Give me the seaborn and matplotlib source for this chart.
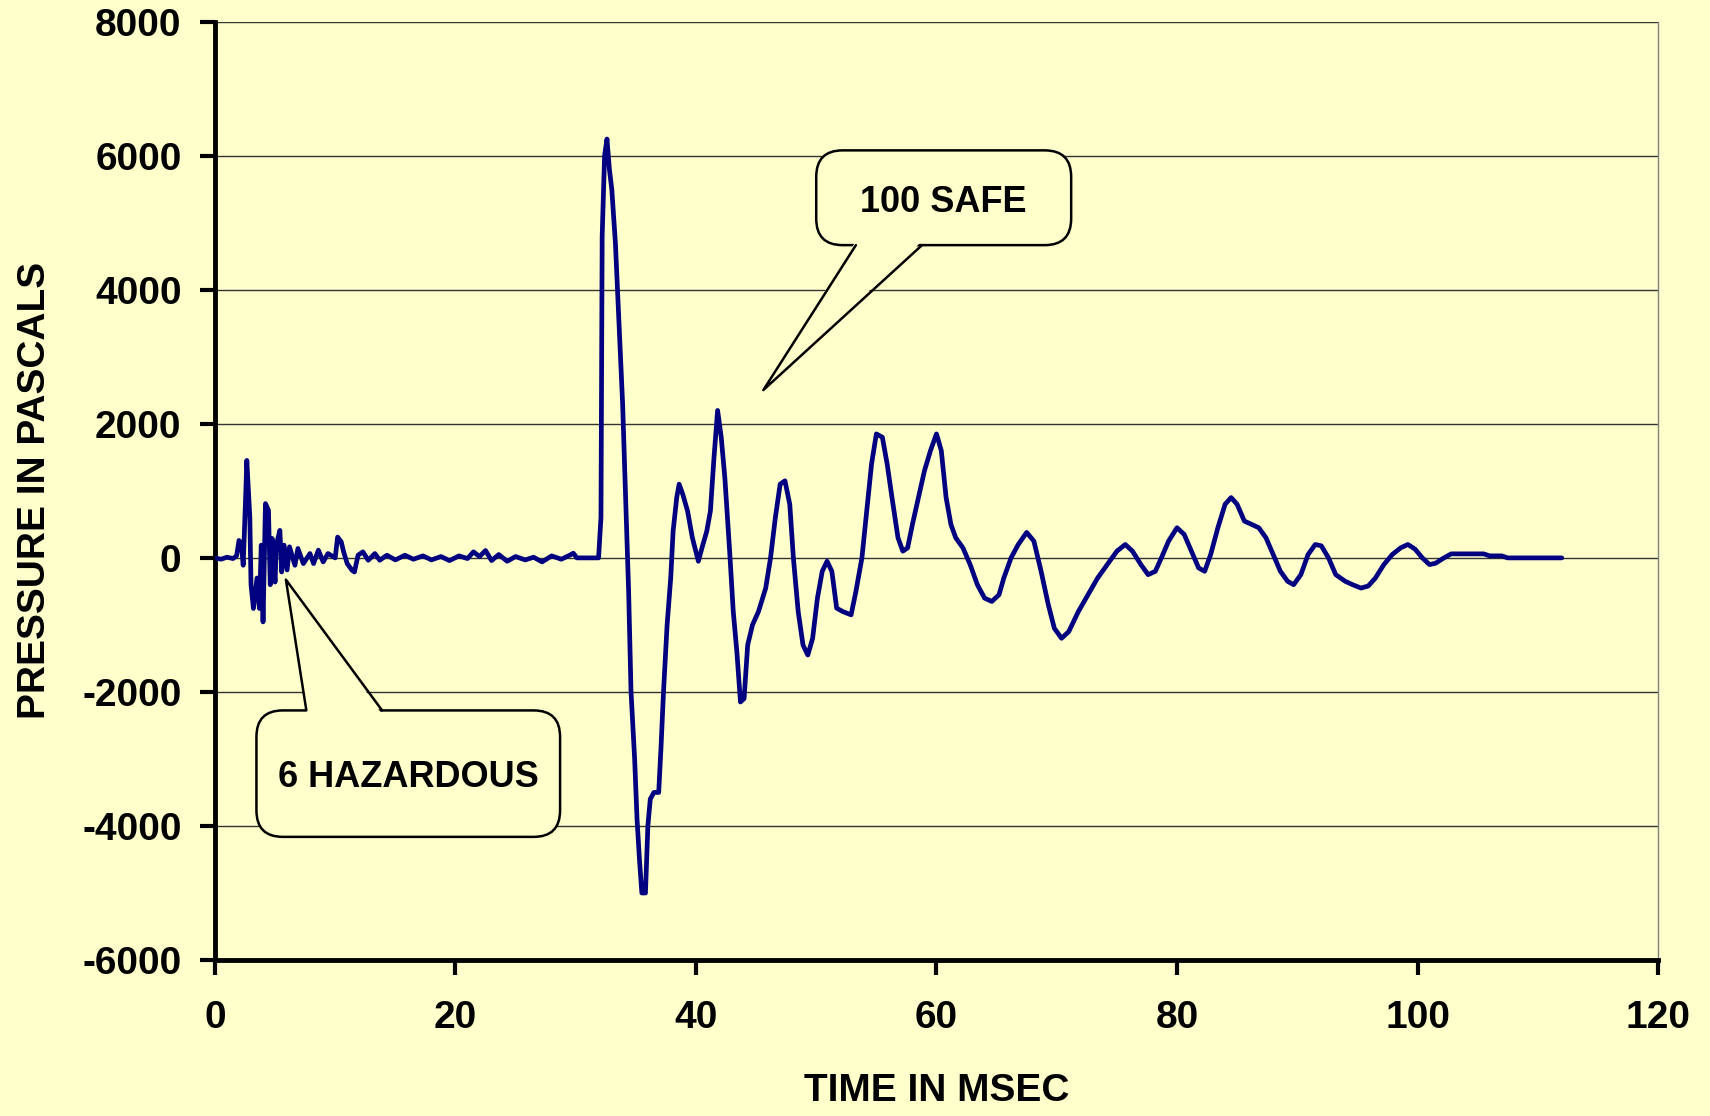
import numpy as np
import pandas as pd
import seaborn as sns
import matplotlib.pyplot as plt
from matplotlib.patches import FancyBboxPatch, Polygon
from matplotlib.lines import Line2D

# values: time in ms, pressure in Pa
time_ms = [
    0.0, 0.5, 1.0, 1.5, 1.8, 2.0, 2.2, 2.35, 2.55, 2.65, 2.9, 3.0, 3.2, 3.5, 3.7,
    3.85, 4.0, 4.2, 4.45, 4.6, 4.75, 5.0, 5.1, 5.4, 5.55, 5.75, 6.0, 6.2, 6.65,
    6.9, 7.35, 7.9, 8.2, 8.6, 9.0, 9.4, 10.0, 10.2, 10.5, 10.7, 11.0, 11.4, 11.6,
    11.9, 12.3, 12.75, 13.3, 13.7, 14.3, 15.0, 15.8, 16.5, 17.3, 18.0, 18.8,
    19.5, 20.3, 21.0, 21.5, 22.0, 22.5, 23.0, 23.6, 24.3, 25.0, 25.8, 26.5,
    27.2, 28.0, 28.8, 29.5, 29.8, 30.1, 31.9,
    32.1, 32.2, 32.4, 32.6, 32.8, 33.0, 33.3, 33.6, 33.9, 34.2, 34.4, 34.6,
    34.9, 35.1, 35.3, 35.5, 35.8, 36.0, 36.2, 36.5, 36.9, 37.1, 37.3, 37.6,
    37.9, 38.1, 38.4, 38.6, 38.9, 39.3, 39.7, 40.2, 40.5, 40.9, 41.2, 41.5,
    41.8, 42.1, 42.4, 42.8, 43.1, 43.4, 43.7, 44.0, 44.3, 44.7, 45.2, 45.8,
    46.2, 46.6, 47.0, 47.4, 47.8, 48.1, 48.5, 48.9, 49.3, 49.7, 50.1, 50.5,
    50.9, 51.3, 51.7, 52.2, 52.9, 53.3, 53.8, 54.2, 54.6, 55.0, 55.5, 55.9,
    56.3, 56.8, 57.2, 57.6, 58.0, 58.5, 59.0, 59.5, 60.0, 60.4, 60.8, 61.2,
    61.6, 62.2, 62.8, 63.4, 64.0, 64.6, 65.2, 65.6, 66.2, 66.8, 67.5, 68.1,
    68.7, 69.3, 69.8, 70.4, 71.0, 71.8, 72.6, 73.4, 74.2, 75.0, 75.7, 76.3,
    77.0, 77.6, 78.2, 78.7, 79.3, 80.0, 80.6, 81.2, 81.8, 82.3, 82.8, 83.4,
    84.0, 84.5, 85.0, 85.6, 86.2, 86.8, 87.4, 88.0, 88.6, 89.2, 89.7, 90.3,
    90.9, 91.5, 92.0, 92.6, 93.2, 94.0, 94.6, 95.3, 95.9, 96.5, 97.2, 97.9,
    98.6, 99.2, 99.8, 100.4, 101.0, 101.5, 102.2, 102.8, 104.0, 105.5, 106.0,
    107.0, 107.5, 112.0,
]
pressure_pa = [
    0, -20, 10, -10, 30, 260, 200, -110, 900, 1455, 610, -400, -755, -300, -755,
    190, -955, 810, 710, -400, 290, -360, 190, 410, -210, 190, -180, 165, -110,
    140, -85, 65, -85, 115, -60, 65, 0, 310, 240, 90, -85, -185, -210,
    40, 90, -35, 65, -35, 40, -30, 40, -20, 30, -30, 20,
    -40, 30, -10, 90, 20, 110, -40, 50, -50, 20, -30, 10,
    -60, 30, -20, 40, 70, 0, 0,
    600, 4800, 6000, 6250, 5800, 5500, 4700, 3500, 2300, 600, -500, -2000,
    -3000, -3900, -4500, -5000, -5000, -4000, -3600, -3500, -3500, -2800, -2000, -1000,
    -300, 400, 900, 1100, 950, 700, 300, -50, 150, 400, 700, 1500,
    2200, 1800, 1200, 100, -800, -1400, -2150, -2100, -1300, -1000, -800, -450,
    0, 600, 1100, 1150, 800, 0, -800, -1300, -1450, -1200, -600, -200,
    -50, -200, -750, -800, -850, -500, 0, 700, 1400, 1850, 1800, 1400,
    900, 300, 100, 150, 500, 900, 1300, 1600, 1850, 1600, 900, 500,
    300, 150, -100, -400, -600, -650, -550, -300, 0, 200, 380, 250,
    -200, -700, -1050, -1200, -1100, -800, -550, -300, -100, 100, 200, 100,
    -100, -250, -200, 0, 250, 450, 350, 100, -150, -200, 50, 450,
    800, 900, 800, 550, 500, 450, 300, 50, -200, -350, -400, -250,
    50, 200, 180, 0, -250, -350, -400, -450, -420, -300, -100, 50,
    150, 200, 130, 0, -100, -80, 0, 60, 60, 60, 30,
    30, 0, 0,
]

x_ticks = [0, 20, 40, 60, 80, 100, 120]
y_ticks = [-6000, -4000, -2000, 0, 2000, 4000, 6000, 8000]

bg = "#FFFFCC"
navy = "#000080"

sns.set_theme(style="white")
plt.rcParams["font.family"] = ["Liberation Sans", "DejaVu Sans"]
plt.rcParams["font.weight"] = "bold"
plt.rcParams["axes.unicode_minus"] = False
plt.rcParams["text.color"] = "black"
plt.rcParams["axes.labelcolor"] = "black"
plt.rcParams["xtick.color"] = "black"
plt.rcParams["ytick.color"] = "black"

df = pd.DataFrame({"time": time_ms, "pressure": pressure_pa})

fig = plt.figure(figsize=(17.1, 11.16), dpi=100, facecolor=bg)
ax = fig.add_axes([0.1257, 0.1398, 0.8439, 0.8407])
ax.set_facecolor(bg)

sns.lineplot(data=df, x="time", y="pressure", sort=False, estimator=None,
             color=navy, linewidth=3.4, ax=ax, zorder=3)

ax.set_xlim(0, 120)
ax.set_ylim(-6000, 8000)
ax.set_xticks(x_ticks)
ax.set_yticks(y_ticks)
ax.yaxis.grid(True, color="#333333", linewidth=1.0)
ax.xaxis.grid(False)

for s in ["left", "bottom"]:
    ax.spines[s].set_color("black")
    ax.spines[s].set_linewidth(3.5)
ax.spines["top"].set_visible(False)
ax.spines["right"].set_color("#808080")
ax.spines["right"].set_linewidth(1.0)

ax.tick_params(axis="y", direction="out", length=11, width=3, colors="black",
               pad=13, labelsize=28, left=True)
ax.tick_params(axis="x", direction="out", length=11, width=3, colors="black",
               pad=18, labelsize=28, bottom=True)
for lab in ax.get_xticklabels() + ax.get_yticklabels():
    lab.set_fontweight("bold")

ax.set_xlabel("TIME IN MSEC", fontsize=28, fontweight="bold", color="black")
ax.set_ylabel("PRESSURE IN PASCALS", fontsize=28, fontweight="bold", color="black")
ax.xaxis.set_label_coords(0.5, -0.120)
ax.yaxis.set_label_coords(-0.112, 0.5)

# callouts: box in data units, pointer from one edge to a tip
aspect = 16.26 / 0.0907


def callout(text, x0, x1, y0, y1, base_a, base_b, edge_y, tip, text_y):
    box = FancyBboxPatch((x0, y0), x1 - x0, y1 - y0,
                         boxstyle="round,pad=0,rounding_size=2.2",
                         mutation_aspect=aspect, fc=bg, ec="black",
                         lw=1.8, zorder=5)
    ax.add_patch(box)
    inset = 60 if edge_y == y1 else -60
    fill = Polygon([(base_a, edge_y - inset), tip, (base_b, edge_y - inset)],
                   closed=True, fc=bg, ec="none", zorder=6)
    ax.add_patch(fill)
    ax.add_line(Line2D([base_a, tip[0], base_b], [edge_y, tip[1], edge_y],
                       color="black", lw=1.8, zorder=7))
    ax.text((x0 + x1) / 2, text_y, text, ha="center", va="center",
            fontsize=26, fontweight="bold", color="black", zorder=8)


callout("100 SAFE", 50.0, 71.2, 4667, 6081, 53.3, 58.8, 4667, (45.6, 2504), 5300)
callout("6 HAZARDOUS", 3.45, 28.7, -4163, -2276, 7.6, 13.9, -2276, (5.9, -325), -3280)

fig.savefig("out.png", dpi=100, facecolor=bg)
